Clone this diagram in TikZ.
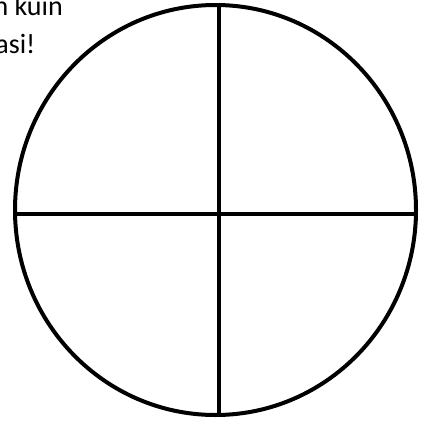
\documentclass[tikz,border=0pt]{standalone}
\usepackage{fontspec}
\setmainfont{Carlito}
\begin{document}
\begin{tikzpicture}[x=1pt,y=1pt,
  stroke/.style={line width=4pt,black},
  txt/.style={anchor=base east,inner sep=0pt,font=\fontsize{28}{34}\selectfont}]
\useasboundingbox (0,0) rectangle (422,421);
\clip (0,0) rectangle (422,421);
\node[txt] (t1) at (63,405) {n kuin};
\node[txt] (t2) at (35.5,367) {asi!};
\coordinate (c) at (215.5,211);
\draw[stroke] (c) ellipse [x radius=200.5, y radius=205];
\coordinate (top) at (218.5,416);
\coordinate (bot) at (218.5,6);
\coordinate (lft) at (15.2,206.7);
\coordinate (rgt) at (415.8,206.7);
\draw[stroke] (top) -- (bot);
\draw[stroke] (lft) -- (rgt);
\end{tikzpicture}
\end{document}
